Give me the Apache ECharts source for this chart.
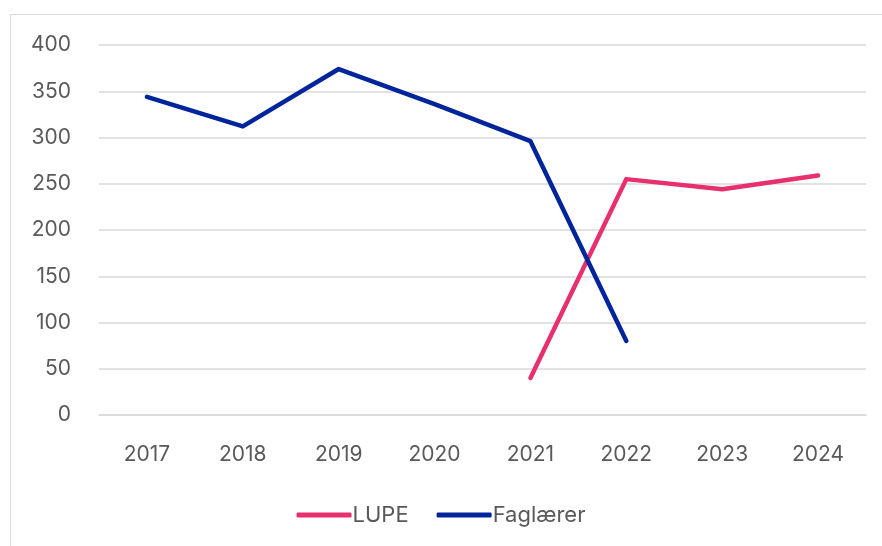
<!DOCTYPE html>
<html>
<head>
<meta charset="utf-8">
<script src="https://cdn.jsdelivr.net/npm/echarts@6/dist/echarts.min.js"></script>
<style>
  html, body { margin: 0; padding: 0; background: #fff; }
  #frame {
    position: absolute; left: 10px; top: 14px; width: 900px; height: 560px;
    border: 1px solid #d9d9d9; box-sizing: border-box;
  }
  #chart { position: absolute; left: 0; top: 0; width: 882px; height: 546px; }
</style>
</head>
<body>
<div id="frame"></div>
<div id="chart"></div>
<script>
const years = ['2017', '2018', '2019', '2020', '2021', '2022', '2023', '2024']
const yTicks = [0, 50, 100, 150, 200, 250, 300, 350, 400]
// LUPE starter i 2021
const lupe = [null, null, null, null, 40, 255, 244, 259]
const faglaerer = [344, 312, 374, 336, 296, 80, null, null]

const font = 'Inter, "Open Sans", sans-serif'
const chart = echarts.init(document.getElementById('chart'))
chart.setOption({
  animation: false,
  grid: { left: 99, right: 16, top: 45, bottom: 131 },
  legend: {
    top: 499,
    left: 'center',
    itemWidth: 55,
    itemHeight: 5,
    itemGap: 28,
    icon: 'roundRect',
    textStyle: { fontFamily: font, fontSize: 22, color: '#595959', padding: [0, 0, 0, -4] },
    data: ['LUPE', 'Faglærer']
  },
  xAxis: {
    type: 'category',
    data: years,
    boundaryGap: true,
    axisLine: { lineStyle: { color: '#d9d9d9', width: 1.5 } },
    axisTick: { show: false },
    axisLabel: { fontFamily: font, fontSize: 21, color: '#595959', margin: 29 }
  },
  yAxis: {
    type: 'value',
    min: yTicks[0],
    max: yTicks[yTicks.length - 1],
    interval: 50,
    axisLine: { show: false },
    axisTick: { show: false },
    splitLine: { lineStyle: { color: '#d9d9d9', width: 1.5 } },
    axisLabel: { fontFamily: font, fontSize: 21, color: '#595959', margin: 28 }
  },
  series: [
    {
      name: 'LUPE', type: 'line', data: lupe,
      symbol: 'none', color: '#E8306F',
      lineStyle: { width: 4.5, cap: 'round', join: 'round' }
    },
    {
      name: 'Faglærer', type: 'line', data: faglaerer,
      symbol: 'none', color: '#00249C',
      lineStyle: { width: 4.5, cap: 'round', join: 'round' }
    }
  ]
})
</script>
</body>
</html>
